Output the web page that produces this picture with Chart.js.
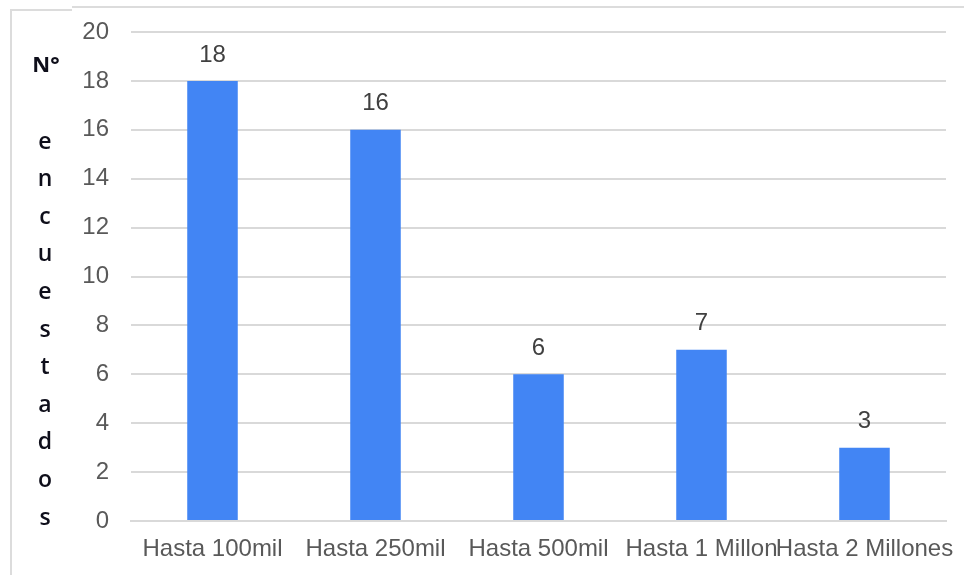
<!DOCTYPE html>
<html>
<head>
<meta charset="utf-8">
<script src="https://cdn.jsdelivr.net/npm/chart.js@4"></script>
<style>
  html, body { margin: 0; padding: 0; background: #fff; }
  #wrap { position: relative; width: 964px; height: 575px; overflow: hidden; }
  .edge { position: absolute; background: #dcdcdc; }
  canvas { position: absolute; left: 0; top: 0; }
</style>
</head>
<body>
<div id="wrap">
  <div class="edge" style="left:10px; top:10px; width:2px; height:565px"></div>
  <div class="edge" style="left:10px; top:9px; width:62px; height:2px"></div>
  <div class="edge" style="left:72px; top:6px; width:892px; height:2px"></div>
  <canvas id="chart" width="964" height="575"></canvas>
</div>
<script>
const categories = ['Hasta 100mil', 'Hasta 250mil', 'Hasta 500mil', 'Hasta 1 Millon', 'Hasta 2 Millones']
const encuestados = [18, 16, 6, 7, 3]
const yTicks = [0, 2, 4, 6, 8, 10, 12, 14, 16, 18, 20]
// y title is stacked one letter per line
const yTitleHead = 'N°'
const yTitleLetters = ['e', 'n', 'c', 'u', 'e', 's', 't', 'a', 'd', 'o', 's']

const labelFont = { family: 'Liberation Sans, Arial, sans-serif', size: 24 }

// value printed above each bar
const barValues = {
  id: 'barValues',
  afterDatasetsDraw(chart) {
    const { ctx } = chart
    const meta = chart.getDatasetMeta(0)
    ctx.save()
    ctx.font = `${labelFont.size}px ${labelFont.family}`
    ctx.fillStyle = '#404040'
    ctx.textAlign = 'center'
    ctx.textBaseline = 'middle'
    meta.data.forEach((bar, i) => {
      ctx.fillText(String(encuestados[i]), bar.x, bar.y - 26)
    })
    ctx.restore()
  }
}

// vertical title drawn letter by letter left of the y axis
const stackedTitle = {
  id: 'stackedTitle',
  afterDraw(chart) {
    const { ctx } = chart
    ctx.save()
    ctx.fillStyle = '#0e0e1a'
    ctx.textAlign = 'center'
    ctx.textBaseline = 'middle'
    ctx.font = 'bold 22px "Open Sans", sans-serif'
    ctx.fillText(yTitleHead, 46, 66)
    ctx.font = '600 23px "Open Sans", sans-serif'
    yTitleLetters.forEach((ch, i) => {
      ctx.fillText(ch, 45, 142 + i * 37.6)
    })
    ctx.restore()
  }
}

new Chart(document.getElementById('chart').getContext('2d'), {
  type: 'bar',
  data: {
    labels: categories,
    datasets: [
      {
        data: encuestados,
        backgroundColor: '#4285f4',
        categoryPercentage: 1,
        barPercentage: 0.31
      }
    ]
  },
  options: {
    responsive: false,
    animation: false,
    layout: {
      padding: { left: 0, top: 32, right: 18, bottom: 0 }
    },
    scales: {
      x: {
        afterFit(scale) {
          scale.height = 54
          // long end labels may run past the plot edge
          scale.paddingLeft = 0
          scale.paddingRight = 0
        },
        grid: { display: false, drawTicks: false },
        border: { color: '#d9d9d9', width: 2 },
        ticks: {
          color: '#595959',
          font: labelFont,
          padding: 14,
          maxRotation: 0,
          minRotation: 0,
          autoSkip: false
        }
      },
      y: {
        min: 0,
        max: 20,
        afterFit(scale) {
          scale.width = 131
          scale.paddingTop = 0
          scale.paddingBottom = 0
        },
        afterBuildTicks(scale) {
          scale.ticks = yTicks.map((v) => ({ value: v }))
        },
        grid: { color: '#d9d9d9', lineWidth: 2, drawTicks: false },
        border: { display: false },
        ticks: {
          color: '#595959',
          font: labelFont,
          padding: 22
        }
      }
    },
    plugins: {
      legend: { display: false },
      tooltip: { enabled: false }
    }
  },
  plugins: [barValues, stackedTitle]
})
</script>
</body>
</html>
